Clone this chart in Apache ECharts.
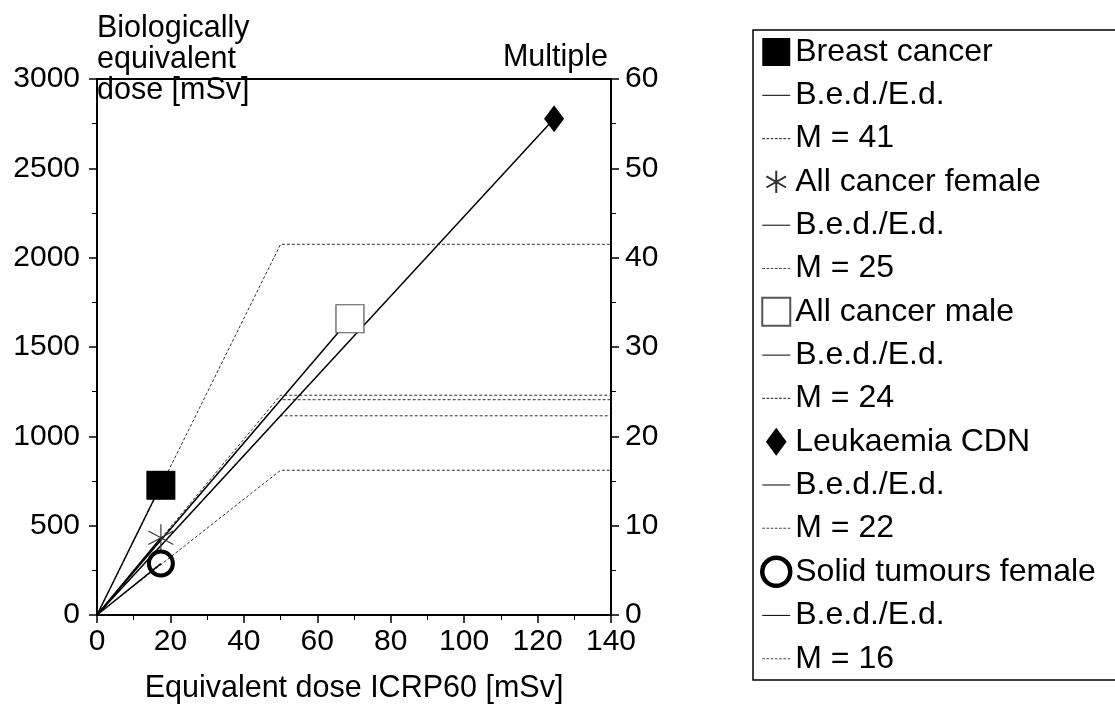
<!DOCTYPE html>
<html>
<head>
<meta charset="utf-8">
<script src="https://cdn.jsdelivr.net/npm/echarts@6/dist/echarts.min.js"></script>
<style>
  html, body { margin: 0; padding: 0; background: #fff; }
  #chart { width: 1115px; height: 709px; }
</style>
</head>
<body>
<div id="chart"></div>
<script>
// values
const groups = ['Breast cancer', 'All cancer female', 'All cancer male', 'Leukaemia CDN', 'Solid tumours female']
const equivDose = [17.4, 17.4, 68.9, 124.5, 17.4]      // mSv, ICRP60
const bioDose = [726, 432, 1658, 2778, 288]            // mSv, biologically equivalent
const multipleLabels = [41, 25, 24, 22, 16]            // M shown in legend
const multipleLevels = [41.5, 24.6, 24.1, 22.3, 16.2]  // plateau on right axis
const kneeDose = 50
const xRange = [0, 140, 20]
const leftRange = [0, 3000, 500]
const rightRange = [0, 60, 10]

const font = 'Liberation Sans, Arial, sans-serif'
const asterisk = 'path://M0,-1L0,1M-0.866,-0.5L0.866,0.5M-0.866,0.5L0.866,-0.5'
const diamond = 'path://M0,-13.5L10,0L0,13.5L-10,0Z'
const solidIcon = 'path://M0,0H28V1H0Z'
let dashIcon = 'path://'
for (let x = 0; x < 28; x += 4) dashIcon += 'M' + x + ',0H' + (x + 2.5) + 'V1H' + x + 'Z'

const markers = [
  { symbol: 'rect', symbolSize: 29, itemStyle: { color: '#000', opacity: 1 } },
  { symbol: asterisk, symbolSize: [25, 27], itemStyle: { color: 'transparent', borderColor: '#333', borderWidth: 1.2, opacity: 1 } },
  { symbol: 'rect', symbolSize: 28, itemStyle: { color: '#fff', borderColor: '#555', borderWidth: 1.2, opacity: 1 } },
  { symbol: diamond, symbolSize: [20, 27], itemStyle: { color: '#000', opacity: 1 } },
  { symbol: 'circle', symbolSize: 24, itemStyle: { color: 'transparent', borderColor: '#000', borderWidth: 4, opacity: 1 } }
]

const series = []
const legendData = []
groups.forEach((g, i) => {
  const ratioName = 'B.e.d./E.d.#' + i
  const mName = 'M = ' + multipleLabels[i]
  series.push({
    name: ratioName,
    type: 'line',
    symbol: 'none',
    color: '#000',
    data: [[0, 0], [equivDose[i], bioDose[i]]],
    lineStyle: { color: '#000', width: 1.5 },
    z: 2
  })
  series.push({
    name: mName,
    type: 'line',
    yAxisIndex: 1,
    symbol: 'none',
    color: '#333',
    data: [[0, 0], [kneeDose, multipleLevels[i]], [xRange[1], multipleLevels[i]]],
    lineStyle: { color: '#333', width: 1, type: [3, 2] },
    z: 1
  })
  series.push(Object.assign({
    name: g,
    type: 'scatter',
    data: [[equivDose[i], bioDose[i]]],
    z: 5
  }, markers[i]))
  const markerItem = { name: g }
  if (g === 'Leukaemia CDN') markerItem.icon = diamond
  if (g === 'All cancer female') markerItem.icon = 'path://M0,-0.8L0,0.8M-0.7,-0.4L0.7,0.4M-0.7,0.4L0.7,-0.4M-1,-1M1,1'
  if (g === 'Solid tumours female') markerItem.itemStyle = { borderWidth: 4.5 }
  legendData.push(
    markerItem,
    { name: ratioName, icon: solidIcon, itemStyle: { color: '#000', borderWidth: 0 } },
    { name: mName, icon: dashIcon, itemStyle: { color: '#444', borderWidth: 0 } }
  )
})

const tickLabel = { fontSize: 30, color: '#000', fontFamily: font, formatter: v => String(v) }
const nameFont = { fontSize: 30.5, color: '#000', fontFamily: font }

const chart = echarts.init(document.getElementById('chart'))
chart.setOption({
  animation: false,
  textStyle: { fontFamily: font, color: '#000' },
  grid: { left: 97, right: 504, top: 79, bottom: 89, show: true, borderColor: '#000', borderWidth: 2 },
  xAxis: {
    type: 'value',
    min: xRange[0], max: xRange[1], interval: xRange[2],
    name: 'Equivalent dose ICRP60 [mSv]',
    nameLocation: 'middle',
    nameGap: 58,
    nameTextStyle: nameFont,
    axisLine: { lineStyle: { color: '#000', width: 2 } },
    axisTick: { length: 8, lineStyle: { color: '#000', width: 1.5 } },
    minorTick: { show: true, splitNumber: 2, length: 5, lineStyle: { color: '#000', width: 1 } },
    splitLine: { show: false },
    axisLabel: Object.assign({ margin: 12 }, tickLabel)
  },
  yAxis: [{
    type: 'value',
    position: 'left',
    min: leftRange[0], max: leftRange[1], interval: leftRange[2],
    name: 'Biologically\nequivalent\ndose [mSv]',
    nameLocation: 'end',
    nameGap: -27,
    nameTextStyle: Object.assign({ align: 'left', verticalAlign: 'bottom', lineHeight: 31 }, nameFont),
    axisLine: { show: true, onZero: false, lineStyle: { color: '#000', width: 2 } },
    axisTick: { length: 8, lineStyle: { color: '#000', width: 1.5 } },
    minorTick: { show: true, splitNumber: 2, length: 5, lineStyle: { color: '#000', width: 1 } },
    splitLine: { show: false },
    axisLabel: Object.assign({ margin: 17 }, tickLabel)
  }, {
    type: 'value',
    position: 'right',
    min: rightRange[0], max: rightRange[1], interval: rightRange[2],
    name: 'Multiple',
    nameLocation: 'end',
    nameGap: 6,
    nameTextStyle: Object.assign({ align: 'right', verticalAlign: 'bottom', padding: [0, 3, 0, 0] }, nameFont),
    axisLine: { show: true, onZero: false, lineStyle: { color: '#000', width: 2 } },
    axisTick: { length: 8, lineStyle: { color: '#000', width: 1.5 } },
    minorTick: { show: true, splitNumber: 2, length: 5, lineStyle: { color: '#000', width: 1 } },
    splitLine: { show: false },
    axisLabel: Object.assign({ margin: 14 }, tickLabel)
  }],
  legend: {
    orient: 'vertical',
    left: 760,
    top: 36,
    padding: 0,
    itemWidth: 28,
    itemHeight: 28,
    itemGap: 11.3,
    selectedMode: false,
    textStyle: { fontSize: 32, color: '#000', fontFamily: font, lineHeight: 32 },
    formatter: name => name.replace(/#\d+$/, ''),
    data: legendData
  },
  graphic: [{
    type: 'rect',
    shape: { x: 753, y: 30, width: 400, height: 650 },
    style: { fill: 'none', stroke: '#000', lineWidth: 1.5 },
    silent: true
  }],
  series
})
</script>
</body>
</html>
